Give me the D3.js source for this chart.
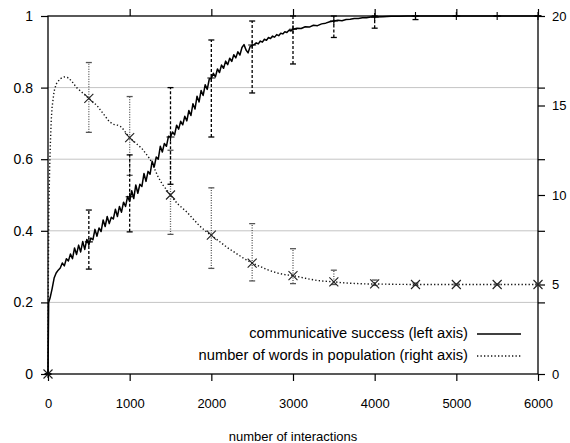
<!DOCTYPE html>
<html lang="en">
<head>
	<meta charset="utf-8">
	<title>Communicative success and number of words</title>
	<script src="https://d3js.org/d3.v7.min.js"></script>
	<style type="text/css">
		body { margin: 0; background: #fff; }
		text { font-family: "Liberation Sans", Arial, Helvetica, sans-serif; fill: #000; }
	</style>
</head>
<body>
	<div id="chart"></div>

<script type="text/javascript">
	// communicative success, sampled along the run: [interactions, success]
	var successCurve = [
		[0, 0], [8, 0.2], [25, 0.212], [50, 0.238], [75, 0.268], [100, 0.282], [125, 0.29], [150, 0.296],
		[175, 0.31], [200, 0.302], [225, 0.322], [250, 0.316], [275, 0.335], [300, 0.322], [325, 0.352],
		[350, 0.334], [375, 0.36], [400, 0.341], [425, 0.37], [450, 0.348], [475, 0.376], [500, 0.362],
		[525, 0.38], [550, 0.375], [575, 0.404], [600, 0.385], [625, 0.408], [650, 0.398], [675, 0.43],
		[700, 0.412], [725, 0.44], [750, 0.42], [775, 0.438], [800, 0.433], [825, 0.46], [850, 0.44],
		[875, 0.468], [900, 0.452], [925, 0.48], [950, 0.468], [975, 0.496], [1000, 0.482], [1025, 0.512],
		[1050, 0.49], [1075, 0.528], [1100, 0.505], [1125, 0.53], [1150, 0.524], [1175, 0.56],
		[1200, 0.538], [1225, 0.566], [1250, 0.558], [1275, 0.594], [1300, 0.578], [1325, 0.606],
		[1350, 0.6], [1375, 0.636], [1400, 0.62], [1425, 0.644], [1450, 0.636], [1475, 0.664],
		[1500, 0.662], [1525, 0.676], [1550, 0.668], [1575, 0.695], [1600, 0.684], [1625, 0.706],
		[1650, 0.696], [1675, 0.72], [1700, 0.707], [1725, 0.736], [1750, 0.722], [1775, 0.755],
		[1800, 0.74], [1825, 0.776], [1850, 0.76], [1875, 0.792], [1900, 0.778], [1925, 0.808],
		[1950, 0.795], [1975, 0.824], [2000, 0.826], [2025, 0.84], [2050, 0.83], [2075, 0.852],
		[2100, 0.842], [2125, 0.863], [2150, 0.854], [2175, 0.874], [2200, 0.864], [2225, 0.882],
		[2250, 0.873], [2275, 0.892], [2300, 0.883], [2325, 0.9], [2350, 0.891], [2375, 0.912],
		[2400, 0.92], [2425, 0.905], [2450, 0.897], [2475, 0.915], [2500, 0.918], [2525, 0.92],
		[2550, 0.925], [2575, 0.922], [2600, 0.93], [2625, 0.927], [2650, 0.935], [2675, 0.932],
		[2700, 0.94], [2725, 0.937], [2750, 0.944], [2775, 0.941], [2800, 0.948], [2825, 0.945],
		[2850, 0.952], [2875, 0.95], [2900, 0.956], [2925, 0.954], [2950, 0.96], [2975, 0.958],
		[3000, 0.963], [3050, 0.966], [3100, 0.965], [3150, 0.97], [3200, 0.969], [3250, 0.974],
		[3300, 0.973], [3350, 0.978], [3400, 0.98], [3450, 0.984], [3500, 0.986], [3550, 0.988],
		[3600, 0.987], [3650, 0.99], [3700, 0.991], [3750, 0.993], [3800, 0.993], [3850, 0.995],
		[3900, 0.995], [3950, 0.997], [4000, 0.997], [4100, 0.998], [4200, 0.999], [4300, 0.999],
		[4400, 1], [4500, 1], [5000, 1], [5500, 1], [6000, 1]
	];

	// number of words in the population: [interactions, words]
	var wordCurve = [
		[0, 0], [5, 6], [10, 9], [20, 11.5], [30, 13], [40, 14.2], [50, 14.9], [75, 15.8], [100, 16.2],
		[150, 16.5], [200, 16.6], [250, 16.55], [300, 16.3], [350, 16.0], [400, 15.8], [450, 15.6],
		[500, 15.4], [550, 15.2], [600, 15.0], [650, 14.7], [700, 14.4], [750, 14.1], [800, 13.95],
		[850, 13.9], [900, 13.8], [950, 13.5], [1000, 13.2], [1050, 13.0], [1100, 12.8], [1150, 12.6],
		[1200, 12.3], [1250, 12.0], [1300, 11.5], [1350, 11.0], [1400, 10.6], [1450, 10.3], [1500, 10.0],
		[1550, 9.7], [1600, 9.45], [1650, 9.25], [1700, 9.05], [1750, 8.8], [1800, 8.55], [1850, 8.3],
		[1900, 8.1], [1950, 7.9], [2000, 7.75], [2100, 7.4], [2200, 7.05], [2300, 6.75], [2400, 6.45],
		[2500, 6.2], [2600, 6.0], [2700, 5.8], [2800, 5.65], [2900, 5.55], [3000, 5.5], [3100, 5.4],
		[3200, 5.3], [3300, 5.22], [3400, 5.18], [3500, 5.15], [3600, 5.1], [3700, 5.07], [3800, 5.05],
		[3900, 5.03], [4000, 5.03], [4250, 5.01], [4500, 5.0], [5000, 5.0], [5500, 5.0], [6000, 5.0]
	];

	// error bar samples every 500 interactions
	var barX        = [0, 500, 1000, 1500, 2000, 2500, 3000, 3500, 4000, 4500, 5000, 5500, 6000];
	var successMean = [0, 0.369, 0.495, 0.662, 0.827, 0.919, 0.963, 0.986, 0.997, 1, 1, 1, 1];
	var successLow  = [0, 0.293, 0.397, 0.53, 0.662, 0.785, 0.866, 0.94, 0.966, 0.99, 1, 1, 1];
	var successHigh = [0, 0.458, 0.612, 0.8, 0.933, 0.986, 1, 1, 1, 1, 1, 1, 1];
	var wordMean    = [0, 15.4, 13.2, 10.0, 7.76, 6.2, 5.5, 5.15, 5.03, 5.0, 5.0, 5.0, 5.0];
	var wordLow     = [0, 13.5, 11.1, 7.8, 5.9, 5.2, 5.05, 5.0, 4.95, 4.95, 4.97, 4.98, 4.98];
	var wordHigh    = [0, 17.4, 15.5, 12.5, 10.4, 8.4, 7.0, 5.8, 5.25, 5.08, 5.03, 5.02, 5.02];

	var xTicks = [0, 1000, 2000, 3000, 4000, 5000, 6000];
	var leftTicks = [0, 0.2, 0.4, 0.6, 0.8, 1];
	var rightTicks = [0, 5, 10, 15, 20];
	var gridTicks = [0.2, 0.4, 0.6, 0.8];
	var legendLabels = ["communicative success (left axis)", "number of words in population (right axis)"];

	var w = 570;
	var h = 443;
	var plotLeft = 48, plotRight = 538, plotTop = 16, plotBottom = 374;

	var x = d3.scaleLinear().domain([0, 6000]).range([plotLeft, plotRight]);
	var yL = d3.scaleLinear().domain([0, 1]).range([plotBottom, plotTop]);
	var yR = d3.scaleLinear().domain([0, 20]).range([plotBottom, plotTop]);

	var svg = d3.select("#chart")
		.append("svg")
		.attr("width", w)
		.attr("height", h);

	// grid
	svg.selectAll("line.grid")
		.data(gridTicks)
		.enter()
		.append("line")
		.attr("class", "grid")
		.attr("x1", plotLeft).attr("x2", plotRight)
		.attr("y1", function(d) { return yL(d); })
		.attr("y2", function(d) { return yL(d); })
		.attr("stroke", "#c4c4c4")
		.attr("stroke-width", 1);

	// axes (tics out, like gnuplot)
	function styleAxis(g) {
		g.select(".domain").remove();
		g.selectAll(".tick line").attr("stroke", "#000").attr("stroke-width", 1.2);
		g.selectAll(".tick text").attr("font-size", "13px").attr("fill", "#000")
			.attr("font-family", "'Liberation Sans', Arial, Helvetica, sans-serif");
	}

	svg.append("g")
		.attr("transform", "translate(0," + plotBottom + ")")
		.call(d3.axisBottom(x).tickValues(xTicks).tickSizeInner(7).tickSizeOuter(0).tickPadding(18)
			.tickFormat(d3.format("d")))
		.call(styleAxis);

	svg.append("g")
		.attr("transform", "translate(0," + plotTop + ")")
		.call(d3.axisTop(x).tickValues(xTicks.slice(1)).tickSizeInner(7).tickSizeOuter(0).tickFormat(""))
		.call(styleAxis);

	svg.append("g")
		.attr("transform", "translate(" + plotLeft + ",0)")
		.call(d3.axisLeft(yL).tickValues(leftTicks).tickSizeInner(7).tickSizeOuter(0).tickPadding(8)
			.tickFormat(function(d) { return String(+d.toFixed(1)); }))
		.call(styleAxis)
		.call(function(g) { g.selectAll(".tick text").attr("font-size", "14px"); });

	svg.append("g")
		.attr("transform", "translate(" + plotRight + ",0)")
		.call(d3.axisRight(yR).tickValues(rightTicks).tickSizeInner(7).tickSizeOuter(0).tickPadding(7))
		.call(styleAxis);

	svg.append("g")
		.attr("transform", "translate(" + plotRight + ",0)")
		.call(d3.axisRight(yL).tickValues(gridTicks).tickSizeInner(7).tickSizeOuter(0).tickFormat(""))
		.call(styleAxis);

	// border
	svg.append("rect")
		.attr("x", plotLeft).attr("y", plotTop)
		.attr("width", plotRight - plotLeft).attr("height", plotBottom - plotTop)
		.attr("fill", "none")
		.attr("stroke", "#000")
		.attr("stroke-width", 1.3);

	// word count curve (right axis, dotted)
	svg.append("path")
		.datum(wordCurve)
		.attr("d", d3.line()
			.x(function(d) { return x(d[0]); })
			.y(function(d) { return yR(d[1]); }))
		.attr("fill", "none")
		.attr("stroke", "#111")
		.attr("stroke-width", 1.4)
		.attr("stroke-dasharray", "1.3,2.2");

	// success curve (left axis, solid)
	svg.append("path")
		.datum(successCurve)
		.attr("d", d3.line()
			.x(function(d) { return x(d[0]); })
			.y(function(d) { return yL(d[1]); }))
		.attr("fill", "none")
		.attr("stroke", "#000")
		.attr("stroke-width", 1.5)
		.attr("stroke-linejoin", "round");

	function errorBars(cls, lo, hi, scale, color, width, dash) {
		var g = svg.append("g").attr("class", cls)
			.attr("stroke", color).attr("stroke-width", width).attr("fill", "none");
		barX.forEach(function(v, i) {
			var px = x(v), y0 = scale(lo[i]), y1 = scale(hi[i]);
			g.append("line").attr("x1", px).attr("x2", px).attr("y1", y0).attr("y2", y1)
				.attr("stroke-dasharray", dash);
			g.append("line").attr("x1", px - 3).attr("x2", px + 3).attr("y1", y0).attr("y2", y0);
			g.append("line").attr("x1", px - 3).attr("x2", px + 3).attr("y1", y1).attr("y2", y1);
		});
		return g;
	}

	errorBars("word-bars", wordLow, wordHigh, yR, "#555", 1.3, "1,1.5");
	errorBars("success-bars", successLow, successHigh, yL, "#000", 1.3, "3,2");

	// word markers (x)
	svg.selectAll("path.wx")
		.data(barX)
		.enter()
		.append("path")
		.attr("class", "wx")
		.attr("d", function(d, i) {
			var px = x(d), py = yR(wordMean[i]), s = 4.5;
			return "M" + (px - s) + "," + (py - s) + "L" + (px + s) + "," + (py + s) +
				"M" + (px - s) + "," + (py + s) + "L" + (px + s) + "," + (py - s);
		})
		.attr("stroke", "#222")
		.attr("stroke-width", 1.1);

	// success markers (+)
	svg.selectAll("path.sp")
		.data(barX)
		.enter()
		.append("path")
		.attr("class", "sp")
		.attr("d", function(d, i) {
			var px = x(d), py = yL(successMean[i]), s = 4;
			return "M" + (px - s) + "," + py + "L" + (px + s) + "," + py +
				"M" + px + "," + (py - s) + "L" + px + "," + (py + s);
		})
		.attr("stroke", "#000")
		.attr("stroke-width", 1.1);

	// legend
	var legend = svg.append("g");
	legend.selectAll("text")
		.data(legendLabels)
		.enter()
		.append("text")
		.attr("x", 468)
		.attr("y", function(d, i) { return 333 + i * 22; })
		.attr("dy", "0.35em")
		.attr("text-anchor", "end")
		.attr("font-size", "14.7px")
		.text(function(d) { return d; });

	legend.selectAll("line")
		.data(legendLabels)
		.enter()
		.append("line")
		.attr("x1", 477).attr("x2", 521)
		.attr("y1", function(d, i) { return 334 + i * 22; })
		.attr("y2", function(d, i) { return 334 + i * 22; })
		.attr("stroke", function(d, i) { return i ? "#111" : "#000"; })
		.attr("stroke-width", function(d, i) { return i ? 1.3 : 1.5; })
		.attr("stroke-dasharray", function(d, i) { return i ? "1.3,2.2" : null; });

	svg.append("text")
		.attr("x", 293)
		.attr("y", 436)
		.attr("dy", "0.35em")
		.attr("text-anchor", "middle")
		.attr("font-size", "13px")
		.text("number of interactions");
</script>
</body>
</html>
